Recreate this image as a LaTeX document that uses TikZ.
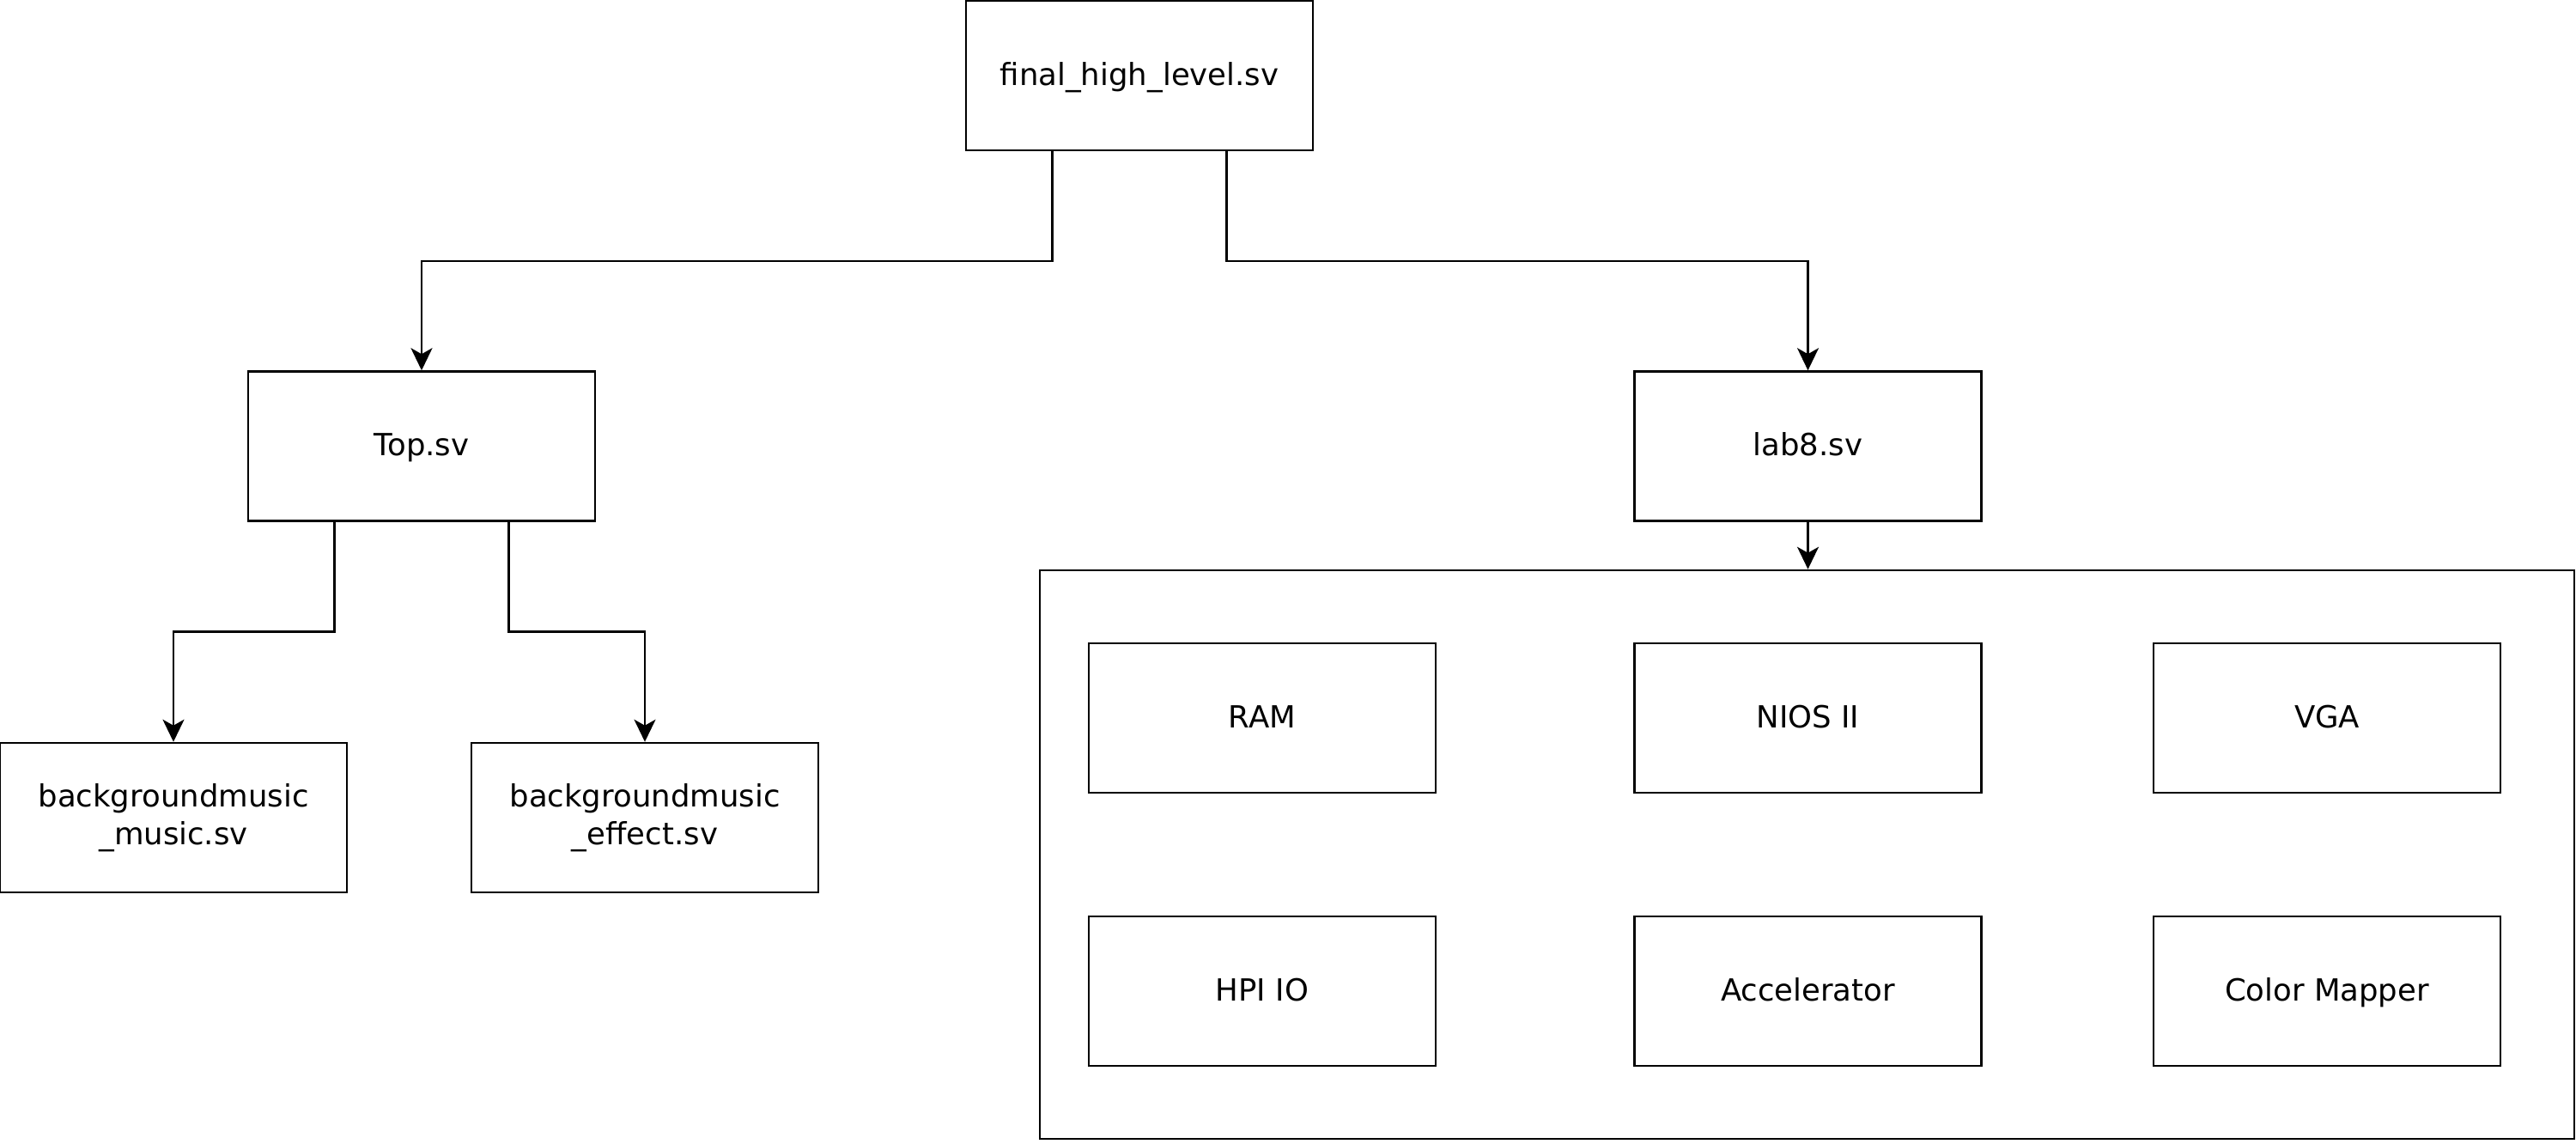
\documentclass[tikz,border=0pt]{standalone}
\usepackage{fontspec}
\setmainfont{DejaVu Sans}
\usepackage{tikz}
\usetikzlibrary{arrows.meta,calc}

\begin{document}
\begin{tikzpicture}[
 box/.style={
    rectangle,
    draw=black,
    line width=0.7pt,
    align=center,
    text height=1.6ex,
    text depth=0.45ex,
    minimum width=4.04cm,
    minimum height=1.74cm,
    font=\fontsize{10.1}{12.6}\selectfont
   },
 twoline/.style={
    text height={},
    text depth={}
   },
 frame/.style={
    rectangle,
    draw=black,
    line width=0.7pt,
    minimum width=17.87cm,
    minimum height=6.62cm
   },
 arrow/.style={
    line width=0.7pt,
    -{Stealth[length=2.6mm,width=2.5mm,inset=0.7mm]}
   }
 ]
 \useasboundingbox (0,0) rectangle (30,-13.32);

 %top level
 \node[box] (final) at (13.27,-0.88) {final\_high\_level.sv};

 %second level
 \node[box] (top) at (4.91,-5.195) {Top.sv};
 \node[box] (lab) at (21.055,-5.195) {lab8.sv};

 %sound modules
 \node[box,twoline] (music) at (2.02,-9.52) {backgroundmusic\\\_music.sv};
 \node[box,twoline] (effect) at (7.51,-9.52) {backgroundmusic\\\_effect.sv};

 %lab8 block
 \node[frame] (group) at (21.045,-9.95) {};
 \node[box] (ram) at (14.70,-8.36) {RAM};
 \node[box] (nios) at (21.055,-8.36) {NIOS II};
 \node[box] (vga) at (27.10,-8.36) {VGA};
 \node[box] (hpi) at (14.70,-11.54) {HPI IO};
 \node[box] (accel) at (21.055,-11.54) {Accelerator};
 \node[box] (mapper) at (27.10,-11.54) {Color Mapper};

 %arrows
 \draw[arrow] ($(final.south west)!0.25!(final.south east)$) -- ++(0,-1.28) -| (top);
 \draw[arrow] ($(final.south west)!0.75!(final.south east)$) -- ++(0,-1.28) -| (lab);

 \draw[arrow] ($(top.south west)!0.25!(top.south east)$) -- ++(0,-1.28) -| (music);
 \draw[arrow] ($(top.south west)!0.75!(top.south east)$) -- ++(0,-1.28) -| (effect);

 \draw[arrow] (lab) -- (lab |- group.north);
\end{tikzpicture}
\end{document}
